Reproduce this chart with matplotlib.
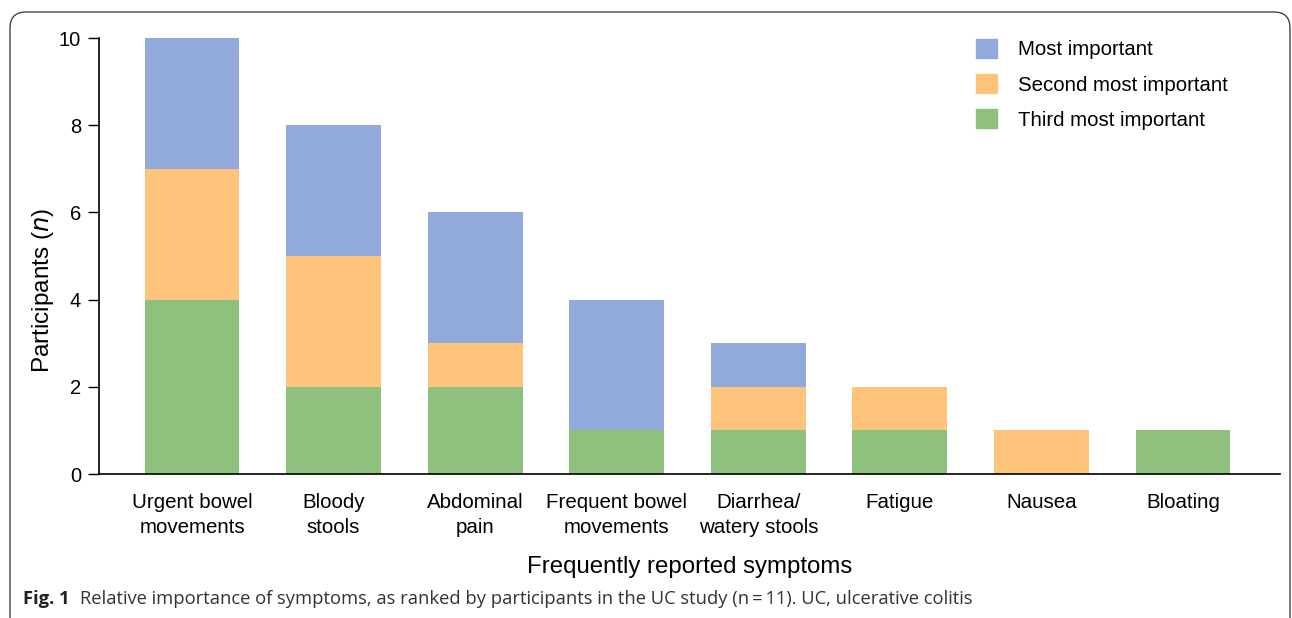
import matplotlib
matplotlib.use("Agg")
import matplotlib.pyplot as plt
from matplotlib.patches import FancyBboxPatch, Patch
from matplotlib.transforms import IdentityTransform
import numpy as np

# data
symptoms = ["Urgent bowel\nmovements", "Bloody\nstools", "Abdominal\npain",
            "Frequent bowel\nmovements", "Diarrhea/\nwatery stools", "Fatigue",
            "Nausea", "Bloating"]
third = [4, 2, 2, 1, 1, 1, 0, 1]
second = [3, 3, 1, 0, 1, 1, 1, 0]
most = [3, 3, 3, 3, 1, 0, 0, 0]

c_most = "#92aadb"
c_second = "#fec47c"
c_third = "#8ec17e"

plt.rcParams['font.family'] = ['Liberation Sans', 'DejaVu Sans']

fig = plt.figure(figsize=(12.92, 6.18), dpi=100)

# frame round the figure (bottom runs off the page)
frame = FancyBboxPatch((10, -40), 1280, 646, boxstyle="round,pad=0,rounding_size=16",
                       transform=IdentityTransform(), fill=False, edgecolor="#444444",
                       linewidth=1.0, zorder=0)
fig.patches.append(frame)

ax = fig.add_axes([99/1292, 144/618, (1280-99)/1292, (474-38)/618])

x = np.arange(len(symptoms))
w = 0.67
ax.bar(x, third, w, color=c_third)
ax.bar(x, second, w, bottom=third, color=c_second)
ax.bar(x, most, w, bottom=np.array(third) + np.array(second), color=c_most)

ax.set_xlim(-0.657, 7.685)
ax.set_ylim(0, 10)
ax.set_yticks([0, 2, 4, 6, 8, 10])
ax.set_xticks(x)
ax.set_xticklabels(symptoms, fontsize=14.8, linespacing=1.35)
ax.tick_params(axis='x', length=0, pad=14)
ax.tick_params(axis='y', labelsize=14.5, length=8, width=1, pad=5)
for s in ['top', 'right']:
    ax.spines[s].set_visible(False)
for s in ['left', 'bottom']:
    ax.spines[s].set_linewidth(1.2)

ax.set_ylabel("Participants ($\\it{n}$)", fontsize=17.5)
ax.yaxis.set_label_coords(-0.036, 0.422)
ax.set_xlabel("Frequently reported symptoms", fontsize=17.3, labelpad=14)

handles = [Patch(color=c_most), Patch(color=c_second), Patch(color=c_third)]
ax.legend(handles, ["Most important", "Second most important", "Third most important"],
          loc='upper left', bbox_to_anchor=(0.727, 1.04), frameon=False, fontsize=14.7,
          handlelength=1.05, handleheight=1.05, handletextpad=1.0, labelspacing=0.72)

fig.text(23/1292, 1 - 599/618, "Fig. 1", fontsize=13.2, fontweight='bold',
         family=['Open Sans', 'DejaVu Sans'], va='center', color='#222222')
fig.text(80/1292, 1 - 599/618,
         "Relative importance of symptoms, as ranked by participants in the UC study (n\u2009=\u200911). UC, ulcerative colitis",
         fontsize=13.2, family=['Open Sans', 'DejaVu Sans'], va='center', color='#333333')

fig.savefig("out.png", dpi=100)
